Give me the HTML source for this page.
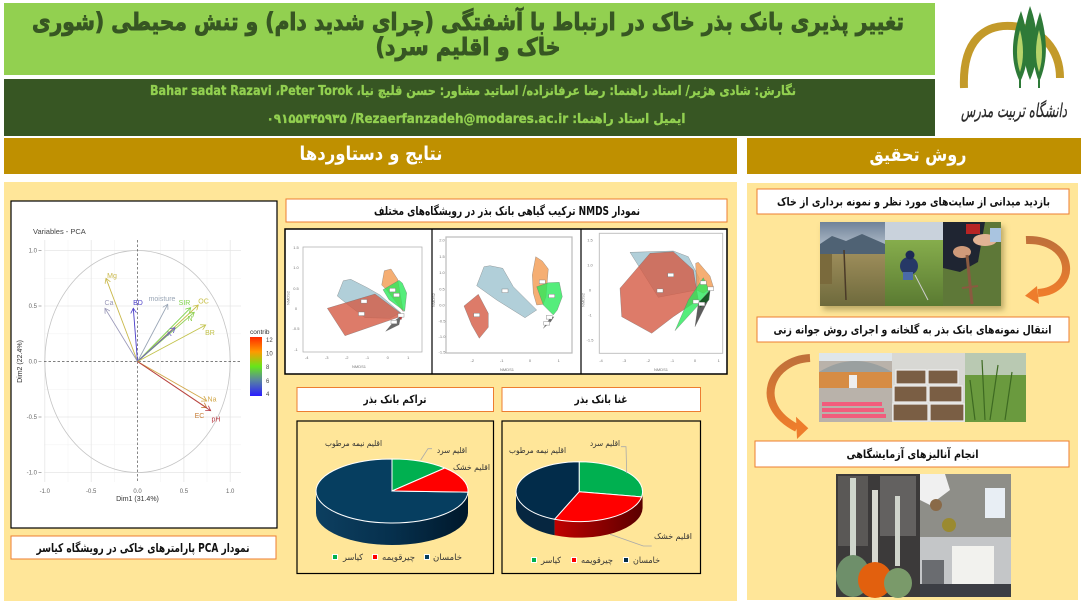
<!DOCTYPE html>
<html><head><meta charset="utf-8">
<style>
html,body{margin:0;padding:0;background:#fff;}
svg{display:block;}
.fa{font-family:"DejaVu Sans",sans-serif;}
.lat{font-family:"Liberation Sans",sans-serif;}
</style></head>
<body>
<svg width="1085" height="604" viewBox="0 0 1085 604" xmlns="http://www.w3.org/2000/svg">
<defs>
 <linearGradient id="cb" x1="0" y1="0" x2="0" y2="1">
  <stop offset="0" stop-color="#ff2a00"/><stop offset="0.25" stop-color="#ff9a00"/>
  <stop offset="0.5" stop-color="#66e61a"/><stop offset="0.72" stop-color="#5a8a9a"/>
  <stop offset="1" stop-color="#2a1cff"/>
 </linearGradient>
 <linearGradient id="navySideL" x1="0" y1="0" x2="1" y2="0">
  <stop offset="0" stop-color="#0d3f60"/><stop offset="0.5" stop-color="#06304d"/><stop offset="1" stop-color="#00182b"/>
 </linearGradient>
 <linearGradient id="redSide" x1="0" y1="0" x2="1" y2="0">
  <stop offset="0" stop-color="#c00000"/><stop offset="1" stop-color="#5a0000"/>
 </linearGradient>
 <linearGradient id="sky1" x1="0" y1="0" x2="0" y2="1"><stop offset="0" stop-color="#6f8299"/><stop offset="1" stop-color="#b9c4cf"/></linearGradient>
 <linearGradient id="gr1" x1="0" y1="0" x2="0" y2="1"><stop offset="0" stop-color="#9c8c5a"/><stop offset="1" stop-color="#6e6a3c"/></linearGradient>
 <linearGradient id="gr2" x1="0" y1="0" x2="0" y2="1"><stop offset="0" stop-color="#86ad4c"/><stop offset="1" stop-color="#5a7a32"/></linearGradient>
 <linearGradient id="arr1" x1="0" y1="0" x2="0" y2="1"><stop offset="0" stop-color="#c0703a"/><stop offset="1" stop-color="#ee7d2c"/></linearGradient>
 <filter id="sh" x="-10%" y="-10%" width="120%" height="130%"><feDropShadow dx="3" dy="4" stdDeviation="3" flood-color="#7a6a30" flood-opacity="0.5"/></filter>
 <marker id="m1" markerWidth="6" markerHeight="6" refX="5" refY="3" orient="auto" markerUnits="userSpaceOnUse"><path d="M0,0 L5,3 L0,6" fill="none" stroke="#c9b84a" stroke-width="0.8"/></marker>
 <marker id="m2" markerWidth="6" markerHeight="6" refX="5" refY="3" orient="auto" markerUnits="userSpaceOnUse"><path d="M0,0 L5,3 L0,6" fill="none" stroke="#9a98b8" stroke-width="0.8"/></marker>
 <marker id="m3" markerWidth="6" markerHeight="6" refX="5" refY="3" orient="auto" markerUnits="userSpaceOnUse"><path d="M0,0 L5,3 L0,6" fill="none" stroke="#4a3ec8" stroke-width="0.8"/></marker>
 <marker id="m4" markerWidth="6" markerHeight="6" refX="5" refY="3" orient="auto" markerUnits="userSpaceOnUse"><path d="M0,0 L5,3 L0,6" fill="none" stroke="#9aa6b6" stroke-width="0.8"/></marker>
 <marker id="m5" markerWidth="6" markerHeight="6" refX="5" refY="3" orient="auto" markerUnits="userSpaceOnUse"><path d="M0,0 L5,3 L0,6" fill="none" stroke="#7ed34a" stroke-width="0.8"/></marker>
 <marker id="m6" markerWidth="6" markerHeight="6" refX="5" refY="3" orient="auto" markerUnits="userSpaceOnUse"><path d="M0,0 L5,3 L0,6" fill="none" stroke="#c8c048" stroke-width="0.8"/></marker>
 <marker id="m7" markerWidth="6" markerHeight="6" refX="5" refY="3" orient="auto" markerUnits="userSpaceOnUse"><path d="M0,0 L5,3 L0,6" fill="none" stroke="#8ed050" stroke-width="0.8"/></marker>
 <marker id="m8" markerWidth="6" markerHeight="6" refX="5" refY="3" orient="auto" markerUnits="userSpaceOnUse"><path d="M0,0 L5,3 L0,6" fill="none" stroke="#6a5ac8" stroke-width="0.8"/></marker>
 <marker id="m9" markerWidth="6" markerHeight="6" refX="5" refY="3" orient="auto" markerUnits="userSpaceOnUse"><path d="M0,0 L5,3 L0,6" fill="none" stroke="#c2c24a" stroke-width="0.8"/></marker>
 <marker id="m10" markerWidth="6" markerHeight="6" refX="5" refY="3" orient="auto" markerUnits="userSpaceOnUse"><path d="M0,0 L5,3 L0,6" fill="none" stroke="#d2a84a" stroke-width="0.8"/></marker>
 <marker id="m11" markerWidth="6" markerHeight="6" refX="5" refY="3" orient="auto" markerUnits="userSpaceOnUse"><path d="M0,0 L5,3 L0,6" fill="none" stroke="#c8803a" stroke-width="0.8"/></marker>
 <marker id="m12" markerWidth="6" markerHeight="6" refX="5" refY="3" orient="auto" markerUnits="userSpaceOnUse"><path d="M0,0 L5,3 L0,6" fill="none" stroke="#b84048" stroke-width="0.8"/></marker>
</defs>

<!-- HEADER -->
<rect x="4" y="3" width="931" height="72" fill="#92d050"/>
<text class="fa" x="468" y="30" font-size="24" font-weight="bold" fill="#375623" stroke="#375623" stroke-width="0.9" text-anchor="middle" direction="rtl" textLength="872" lengthAdjust="spacingAndGlyphs">تغییر پذیری بانک بذر خاک در ارتباط با آشفتگی (چرای شدید دام) و تنش محیطی (شوری</text>
<text class="fa" x="468" y="55" font-size="24" font-weight="bold" fill="#375623" stroke="#375623" stroke-width="0.9" text-anchor="middle" direction="rtl" textLength="185" lengthAdjust="spacingAndGlyphs">خاک و اقلیم سرد)</text>

<rect x="4" y="79" width="931" height="57" fill="#375623"/>
<text class="fa" x="473" y="95" font-size="13" font-weight="bold" fill="#92d050" stroke="#92d050" stroke-width="0.3" text-anchor="middle" direction="rtl" textLength="646" lengthAdjust="spacingAndGlyphs">نگارش: شادی هژیر/ استاد راهنما: رضا عرفانزاده/ اساتید مشاور: حسن قلیچ نیا، Peter Torok،&#x200F; Bahar sadat Razavi</text>
<text class="fa" x="476" y="123" font-size="13" font-weight="bold" fill="#92d050" stroke="#92d050" stroke-width="0.3" text-anchor="middle" direction="rtl" textLength="419" lengthAdjust="spacingAndGlyphs">ایمیل استاد راهنما: Rezaerfanzadeh@modares.ac.ir&#x200F;/ &#x200F;۰۹۱۵۵۴۴۵۹۳۵</text>

<!-- LOGO -->
<path d="M964,88 C962,40 985,24 1012,26 C1042,28 1060,50 1060,78" fill="none" stroke="#c39a2a" stroke-width="8"/>
<g fill="#2e7a38">
 <path d="M1021,11 C1012,35 1009,60 1020,82 C1031,60 1029,35 1021,11Z"/>
 <path d="M1030,6 C1022,30 1021,58 1030,80 C1040,58 1039,30 1030,6Z"/>
 <path d="M1040,12 C1032,36 1030,60 1039,82 C1049,60 1047,36 1040,12Z"/>
</g>
<g fill="#b6d46a">
 <path d="M1020,30 C1016,45 1016,60 1020,72 C1024,60 1024,45 1020,30Z"/>
 <path d="M1039,30 C1035,45 1035,60 1039,72 C1043,60 1043,45 1039,30Z"/>
</g>
<g stroke="#2e7a38" stroke-width="2"><line x1="1020" y1="80" x2="1020" y2="88"/><line x1="1039" y1="80" x2="1039" y2="88"/></g>
<text class="fa" x="1014" y="117" font-size="19" font-style="italic" fill="#2a2a2a" stroke="#2a2a2a" stroke-width="0.3" text-anchor="middle" direction="rtl" textLength="106" lengthAdjust="spacingAndGlyphs">دانشگاه تربیت مدرس</text>

<!-- SECTION HEADERS -->
<rect x="4" y="138" width="733" height="36" fill="#bf9000"/>
<text class="fa" x="371" y="160" font-size="19" font-weight="bold" fill="#fff" text-anchor="middle" direction="rtl" textLength="143" lengthAdjust="spacingAndGlyphs">نتایج و دستاوردها</text>
<rect x="747" y="138" width="334" height="36" fill="#bf9000"/>
<text class="fa" x="918" y="161" font-size="19" font-weight="bold" fill="#fff" text-anchor="middle" direction="rtl" textLength="97" lengthAdjust="spacingAndGlyphs">روش تحقیق</text>

<!-- PANELS -->
<rect x="4" y="182" width="733" height="419" fill="#ffe699"/>
<rect x="747" y="183" width="331" height="417" fill="#ffe699"/>

<!-- PCA -->
<rect x="11" y="201" width="266" height="327" fill="#fff" stroke="#000" stroke-width="1.2"/>
<g stroke="#f3f3f3" stroke-width="0.6">
 <line x1="68" y1="240" x2="68" y2="482"/><line x1="114.3" y1="240" x2="114.3" y2="482"/>
 <line x1="160.7" y1="240" x2="160.7" y2="482"/><line x1="207" y1="240" x2="207" y2="482"/>
 <line x1="44" y1="278.3" x2="241" y2="278.3"/><line x1="44" y1="333.8" x2="241" y2="333.8"/>
 <line x1="44" y1="389.3" x2="241" y2="389.3"/><line x1="44" y1="444.8" x2="241" y2="444.8"/>
</g>
<g stroke="#e6e6e6" stroke-width="0.8">
 <line x1="44.8" y1="240" x2="44.8" y2="482"/><line x1="91.2" y1="240" x2="91.2" y2="482"/>
 <line x1="183.9" y1="240" x2="183.9" y2="482"/><line x1="230.2" y1="240" x2="230.2" y2="482"/>
 <line x1="44" y1="250.5" x2="241" y2="250.5"/><line x1="44" y1="306" x2="241" y2="306"/>
 <line x1="44" y1="417" x2="241" y2="417"/><line x1="44" y1="472.5" x2="241" y2="472.5"/>
</g>
<ellipse cx="137.5" cy="361.5" rx="92.7" ry="111" fill="none" stroke="#c4c4c4" stroke-width="0.8"/>
<g stroke="#555" stroke-width="0.7" stroke-dasharray="2.5,2">
 <line x1="137.5" y1="240" x2="137.5" y2="482"/><line x1="44" y1="361.5" x2="241" y2="361.5"/>
</g>
<g stroke-width="0.9" fill="none">
 <line x1="137.5" y1="361.5" x2="106" y2="278.3" stroke="#c9b84a" marker-end="url(#m1)"/>
 <line x1="137.5" y1="361.5" x2="105" y2="308.3" stroke="#9a98b8" marker-end="url(#m2)"/>
 <line x1="137.5" y1="361.5" x2="133.3" y2="308.3" stroke="#4a3ec8" marker-end="url(#m3)"/>
 <line x1="137.5" y1="361.5" x2="167.7" y2="304.3" stroke="#9aa6b6" marker-end="url(#m4)"/>
 <line x1="137.5" y1="361.5" x2="190.7" y2="307.7" stroke="#7ed34a" marker-end="url(#m5)"/>
 <line x1="137.5" y1="361.5" x2="198.3" y2="305" stroke="#c8c048" marker-end="url(#m6)"/>
 <line x1="137.5" y1="361.5" x2="194.3" y2="312.3" stroke="#8ed050" marker-end="url(#m7)"/>
 <line x1="137.5" y1="361.5" x2="175" y2="327.7" stroke="#6a5ac8" marker-end="url(#m8)"/>
 <line x1="137.5" y1="361.5" x2="205.7" y2="325" stroke="#c2c24a" marker-end="url(#m9)"/>
 <line x1="137.5" y1="361.5" x2="206.7" y2="401" stroke="#d2a84a" marker-end="url(#m10)"/>
 <line x1="137.5" y1="361.5" x2="206.7" y2="407.7" stroke="#c8803a" marker-end="url(#m11)"/>
 <line x1="137.5" y1="361.5" x2="210.7" y2="410.7" stroke="#b84048" marker-end="url(#m12)"/>
</g>
<g class="lat" font-size="7" text-anchor="middle">
 <text x="112" y="278" fill="#c9b84a">Mg</text>
 <text x="109" y="305" fill="#9a98b8">Ca</text>
 <text x="138" y="305" fill="#4a3ec8">BD</text>
 <text x="162" y="301" fill="#9aa6b6">moisture</text>
 <text x="184.5" y="305" fill="#7ed34a">SIR</text>
 <text x="203.5" y="303.5" fill="#c8c048">OC</text>
 <text x="190" y="321" fill="#8ed050">N</text>
 <text x="169.5" y="336" fill="#6a5ac8">K</text>
 <text x="210" y="335" fill="#c2c24a">BR</text>
 <text x="212" y="401.5" fill="#d2a84a">Na</text>
 <text x="199.5" y="418" fill="#c8803a">EC</text>
 <text x="216" y="421.5" fill="#b84048">pH</text>
</g>
<text class="lat" x="33" y="234" font-size="7.5" fill="#444">Variables - PCA</text>
<g class="lat" font-size="6" fill="#666" text-anchor="middle">
 <text x="44.8" y="493">-1.0</text><text x="91.2" y="493">-0.5</text><text x="137.5" y="493">0.0</text>
 <text x="183.9" y="493">0.5</text><text x="230.2" y="493">1.0</text>
</g>
<g class="lat" font-size="6" fill="#666" text-anchor="end">
 <text x="37" y="252.5">1.0</text><text x="37" y="308">0.5</text><text x="37" y="363.5">0.0</text>
 <text x="37" y="419">-0.5</text><text x="37" y="474.5">-1.0</text>
</g>
<g stroke="#777" stroke-width="0.6">
 <line x1="38.5" y1="250.5" x2="41.5" y2="250.5"/><line x1="38.5" y1="306" x2="41.5" y2="306"/><line x1="38.5" y1="361.5" x2="41.5" y2="361.5"/><line x1="38.5" y1="417" x2="41.5" y2="417"/><line x1="38.5" y1="472.5" x2="41.5" y2="472.5"/>
</g>
<text class="lat" x="137.5" y="501" font-size="7" fill="#333" text-anchor="middle">Dim1 (31.4%)</text>
<text class="lat" x="0" y="0" font-size="7" fill="#333" text-anchor="middle" transform="translate(22,361.5) rotate(-90)">Dim2 (22.4%)</text>
<text class="lat" x="250" y="334" font-size="6.5" fill="#333">contrib</text>
<rect x="250" y="337" width="12" height="59" fill="url(#cb)"/>
<g class="lat" font-size="6" fill="#444">
 <text x="266" y="342">12</text><text x="266" y="355.5">10</text><text x="266" y="369">8</text><text x="266" y="383">6</text><text x="266" y="396">4</text>
</g>

<rect x="11" y="536" width="265" height="23" fill="#fff" stroke="#ed7d31" stroke-width="1"/>
<text class="fa" x="143" y="552" font-size="12" font-weight="bold" fill="#111" text-anchor="middle" direction="rtl" textLength="213" lengthAdjust="spacingAndGlyphs">نمودار PCA پارامترهای خاکی در رویشگاه کیاسر</text>

<!-- NMDS -->
<rect x="286" y="199" width="441" height="23" fill="#fff" stroke="#ed7d31" stroke-width="1"/>
<text class="fa" x="507" y="215" font-size="12" font-weight="bold" fill="#111" text-anchor="middle" direction="rtl" textLength="266" lengthAdjust="spacingAndGlyphs">نمودار NMDS ترکیب گیاهی بانک بذر در رویشگاه‌های مختلف</text>

<rect x="285" y="229" width="442" height="145" fill="#fff" stroke="#000" stroke-width="1.5"/>
<line x1="432" y1="229" x2="432" y2="374" stroke="#000" stroke-width="1.2"/>
<line x1="581" y1="229" x2="581" y2="374" stroke="#000" stroke-width="1.2"/>

<!-- panel 1 -->
<rect x="303" y="247" width="119" height="105" fill="none" stroke="#aaa" stroke-width="0.7"/>
<g fill-opacity="0.8" stroke="#666" stroke-width="0.3">
 <polygon points="337.3,296 343.3,280.7 350.7,279.3 367.3,287.7 380,295 400.7,312.7 390,318.3 365,317.7 348.3,305" fill="#9ec3cf"/>
 <polygon points="327.3,308.3 375,294 400.7,313.3 398.3,317.3 345,335.7" fill="#d45a44"/>
 <polygon points="381.7,285 384.3,270.7 391,269 397.7,279.3 403.3,311.7 386.7,290" fill="#f39a50"/>
 <polygon points="383,289.7 399,280.3 402.3,283 406.7,293 404.7,311.3 389,299.7" fill="#2ae85a"/>
 <polygon points="385.7,331.3 394,321.3 400.7,316.3 399,324.7" fill="#444"/>
 <polygon points="398,316 403,315 401,320" fill="#c00"/>
</g>
<g fill="#fff" stroke="#777" stroke-width="0.4">
 <rect x="361" y="299.5" width="6" height="3.6"/><rect x="358.5" y="312" width="6" height="3.6"/>
 <rect x="389.5" y="288.3" width="6" height="3.6"/><rect x="393.5" y="293.3" width="6" height="3.6"/>
 <rect x="398" y="313.5" width="6" height="3.6"/><rect x="391" y="320.2" width="6" height="3.6"/>
</g>
<g class="lat" font-size="4" fill="#777" text-anchor="middle">
 <text x="306.7" y="359">-4</text><text x="326.7" y="359">-3</text><text x="346.7" y="359">-2</text><text x="367.3" y="359">-1</text><text x="387.7" y="359">0</text><text x="408.3" y="359">1</text>
 <text x="359" y="368">NMDS1</text>
 <text x="296" y="249">1.5</text><text x="296" y="269">1.0</text><text x="296" y="290">0.5</text><text x="296" y="310">0</text><text x="296" y="330">-0.5</text><text x="296" y="351">-1</text>
</g>
<text class="lat" font-size="4" fill="#777" text-anchor="middle" transform="translate(289.5,298) rotate(-90)">NMDS2</text>

<!-- panel 2 -->
<rect x="446" y="237" width="126" height="116" fill="none" stroke="#bbb" stroke-width="1.2"/>
<g fill-opacity="0.8" stroke="#666" stroke-width="0.3">
 <polygon points="476.7,285.7 484,266.7 490,265.7 502.7,268.3 513.3,286.7 536.7,310 525,317.7 496.7,300" fill="#9ec3cf"/>
 <polygon points="464,306 478.3,294.3 488.3,313.3 488.3,327.3 479.3,338.3 471.7,325" fill="#d45a44"/>
 <polygon points="532.3,275 535.7,256.7 542.3,261 548.3,269 546,296.7 543.3,304.3 536.7,305 533.3,293.3" fill="#f39a50"/>
 <polygon points="536.7,286.7 548.3,282.7 559.3,282.3 562.3,296.7 557.3,310 553.3,315 543.3,305" fill="#2ae85a"/>
 <polygon points="543.3,328.3 550,318.3 554,316.7 550.7,321.7" fill="#444"/>
</g>
<g fill="#fff" stroke="#777" stroke-width="0.4">
 <rect x="502" y="289" width="6" height="3.6"/><rect x="473.7" y="313.2" width="6" height="3.6"/>
 <rect x="539.3" y="280" width="6" height="3.6"/><rect x="548.7" y="294.2" width="6" height="3.6"/>
 <rect x="546.3" y="315.5" width="6" height="3.6"/><rect x="543.7" y="321.5" width="6" height="3.6"/>
</g>
<g class="lat" font-size="4" fill="#777" text-anchor="middle">
 <text x="472.3" y="362">-2</text><text x="501.7" y="362">-1</text><text x="530" y="362">0</text><text x="558.7" y="362">1</text>
 <text x="507" y="371">NMDS1</text>
 <text x="442" y="241.5">2.0</text><text x="442" y="258">1.5</text><text x="442" y="274">1.0</text><text x="442" y="290.5">0.5</text><text x="442" y="306.5">0.0</text><text x="442" y="322.5">-0.5</text><text x="442" y="338">-1.0</text><text x="442" y="353.5">-1.5</text>
</g>
<text class="lat" font-size="4" fill="#777" text-anchor="middle" transform="translate(435,300) rotate(-90)">NMDS2</text>

<!-- panel 3 -->
<rect x="599.3" y="233.3" width="123.4" height="120" fill="none" stroke="#bbb" stroke-width="0.9"/>
<g fill-opacity="0.8" stroke="#666" stroke-width="0.3">
 <polygon points="630,252.3 673.3,251 688.3,256.7 699.3,278.3 696.7,290 658.3,297.3" fill="#9ec3cf"/>
 <polygon points="620,288.3 650,253.3 673.3,251.7 693.3,270 698.3,300 673.3,316.7 651.7,333.3 621.7,316.7" fill="#d45a44"/>
 <polygon points="695.7,263.3 698.3,262.3 710,276 713.3,286.7 703.3,293.3 696.7,290" fill="#f39a50"/>
 <polygon points="675,330.7 688.3,300 703.3,277.7 710,291.7 700,303.3" fill="#2ae85a"/>
 <polygon points="695,326.7 698.3,303.3 710,290 708.3,300" fill="#333"/>
 <polygon points="699,302 710,291 709,300 700,308" fill="#0a5a1a"/>
</g>
<g fill="#fff" stroke="#777" stroke-width="0.4">
 <rect x="667.7" y="273.2" width="6" height="3.6"/><rect x="657" y="288.9" width="6" height="3.6"/>
 <rect x="700.3" y="280.9" width="6" height="3.6"/><rect x="707.7" y="286.9" width="6" height="3.6"/>
 <rect x="693" y="299.9" width="6" height="3.6"/><rect x="698.7" y="302.2" width="6" height="3.6"/>
</g>
<g class="lat" font-size="4" fill="#777" text-anchor="middle">
 <text x="601" y="362">-4</text><text x="624.3" y="362">-3</text><text x="648.3" y="362">-2</text><text x="672.3" y="362">-1</text><text x="695" y="362">0</text><text x="718.7" y="362">1</text>
 <text x="661" y="371">NMDS1</text>
 <text x="590" y="241.5">1.5</text><text x="590" y="266.5">1.0</text><text x="590" y="291.5">0</text><text x="590" y="316.5">-1</text><text x="590" y="341.5">-1.5</text>
</g>
<text class="lat" font-size="4" fill="#777" text-anchor="middle" transform="translate(584.5,300) rotate(-90)">NMDS2</text>

<!-- PIE CAPTIONS -->
<rect x="297" y="387.5" width="196.5" height="24" fill="#fff" stroke="#ed7d31" stroke-width="1"/>
<text class="fa" x="395" y="403" font-size="11" font-weight="bold" fill="#111" text-anchor="middle" direction="rtl" textLength="63" lengthAdjust="spacingAndGlyphs">تراکم بانک بذر</text>
<rect x="502" y="387.5" width="198.5" height="24" fill="#fff" stroke="#ed7d31" stroke-width="1"/>
<text class="fa" x="601" y="403" font-size="11" font-weight="bold" fill="#111" text-anchor="middle" direction="rtl" textLength="53" lengthAdjust="spacingAndGlyphs">غنا بانک بذر</text>

<!-- PIE LEFT -->
<rect x="297" y="421" width="196.5" height="152.5" fill="#ffe699" stroke="#000" stroke-width="1.2"/>
<path d="M316,491 L316,513 A76,32 0 0 0 468,513 L468,491 Z" fill="url(#navySideL)"/>
<path d="M392,491 L468,492.1 A76,32 0 1 1 392,459 Z" fill="#063e60" stroke="#fff" stroke-width="1"/>
<path d="M392,491 L392,459 A76,32 0 0 1 444.8,468 Z" fill="#00b050" stroke="#fff" stroke-width="1"/>
<path d="M392,491 L444.8,468 A76,32 0 0 1 468,492.1 Z" fill="#ff0000" stroke="#fff" stroke-width="1"/>
<polyline points="420.7,460 428,448.7 432,448.7" fill="none" stroke="#aaa" stroke-width="0.8"/>
<g class="fa" font-size="8" fill="#333" text-anchor="middle" direction="rtl">
 <text x="353.5" y="446" textLength="57" lengthAdjust="spacingAndGlyphs">اقلیم نیمه مرطوب</text>
 <text x="452" y="453" textLength="30" lengthAdjust="spacingAndGlyphs">اقلیم سرد</text>
 <text x="471.5" y="470" textLength="37" lengthAdjust="spacingAndGlyphs">اقلیم خشک</text>
</g>
<rect x="332.5" y="554.5" width="5" height="5" fill="#00b050" stroke="#fff" stroke-width="1"/>
<rect x="372.5" y="554.5" width="5" height="5" fill="#ff0000" stroke="#fff" stroke-width="1"/>
<rect x="424.5" y="554.5" width="5" height="5" fill="#063e60" stroke="#fff" stroke-width="1"/>
<g class="fa" font-size="8.5" fill="#333" text-anchor="middle" direction="rtl">
 <text x="353" y="560" textLength="20" lengthAdjust="spacingAndGlyphs">کیاسر</text>
 <text x="398.5" y="560" textLength="33" lengthAdjust="spacingAndGlyphs">چیرقویمه</text>
 <text x="447.5" y="560" textLength="29" lengthAdjust="spacingAndGlyphs">خامسان</text>
</g>

<!-- PIE RIGHT -->
<rect x="502" y="421" width="198.5" height="152.5" fill="#ffe699" stroke="#000" stroke-width="1.2"/>
<path d="M642.6,491.7 L642.6,507.7 A63.3,30 0 0 1 554.6,535.3 L554.6,519.3 Z" fill="url(#redSide)"/>
<path d="M554.6,519.3 L554.6,535.3 A63.3,30 0 0 1 516,507.7 L516,491.7 Z" fill="#062640"/>
<path d="M579.3,491.7 L554.6,519.3 A63.3,30 0 0 1 579.3,461.7 Z" fill="#022c4a" stroke="#fff" stroke-width="1"/>
<path d="M579.3,491.7 L579.3,461.7 A63.3,30 0 0 1 641.6,496.9 Z" fill="#00b050" stroke="#fff" stroke-width="1"/>
<path d="M579.3,491.7 L641.6,496.9 A63.3,30 0 0 1 554.6,519.3 Z" fill="#ff0000" stroke="#fff" stroke-width="1"/>
<polyline points="626.7,473.3 626,446.7 621,446.7" fill="none" stroke="#aaa" stroke-width="0.8"/>
<polyline points="610,534.3 643.3,546 651.7,546" fill="none" stroke="#aaa" stroke-width="0.8"/>
<g class="fa" font-size="8" fill="#333" text-anchor="middle" direction="rtl">
 <text x="605" y="446" textLength="30" lengthAdjust="spacingAndGlyphs">اقلیم سرد</text>
 <text x="537.5" y="453" textLength="57" lengthAdjust="spacingAndGlyphs">اقلیم نیمه مرطوب</text>
 <text x="673" y="539" textLength="38" lengthAdjust="spacingAndGlyphs">اقلیم خشک</text>
</g>
<rect x="531.5" y="557.5" width="5" height="5" fill="#00b050" stroke="#fff" stroke-width="1"/>
<rect x="571.5" y="557.5" width="5" height="5" fill="#ff0000" stroke="#fff" stroke-width="1"/>
<rect x="623.5" y="557.5" width="5" height="5" fill="#022c4a" stroke="#fff" stroke-width="1"/>
<g class="fa" font-size="8.5" fill="#333" text-anchor="middle" direction="rtl">
 <text x="551" y="563" textLength="20" lengthAdjust="spacingAndGlyphs">کیاسر</text>
 <text x="597" y="563" textLength="32" lengthAdjust="spacingAndGlyphs">چیرقویمه</text>
 <text x="646.5" y="563" textLength="27" lengthAdjust="spacingAndGlyphs">خامسان</text>
</g>

<!-- RIGHT COLUMN -->
<rect x="757" y="189" width="312" height="25" fill="#fff" stroke="#ed7d31" stroke-width="1"/>
<text class="fa" x="913.5" y="205.5" font-size="11.5" font-weight="bold" fill="#111" text-anchor="middle" direction="rtl" textLength="273" lengthAdjust="spacingAndGlyphs">بازدید میدانی از سایت‌های مورد نظر و نمونه برداری از خاک</text>

<g filter="url(#sh)">
 <rect x="820" y="222" width="181" height="84" fill="#777"/>
</g>
<!-- photo 1a -->
<rect x="820" y="222" width="65" height="84" fill="url(#gr1)"/>
<rect x="820" y="222" width="65" height="28" fill="url(#sky1)"/>
<polygon points="820,244 832,236 846,241 862,234 885,244 885,256 820,256" fill="#4f6274"/>
<rect x="820" y="254" width="65" height="52" fill="url(#gr1)"/>
<rect x="820" y="254" width="12" height="30" fill="#7a6a3c"/>
<line x1="844" y1="250" x2="846" y2="300" stroke="#4a3a28" stroke-width="1.5"/>
<!-- photo 1b -->
<rect x="885" y="222" width="58" height="18" fill="#c9d2dc"/>
<rect x="885" y="240" width="58" height="66" fill="url(#gr2)"/>
<ellipse cx="909" cy="266" rx="9" ry="9" fill="#263866"/>
<circle cx="910" cy="255" r="4.5" fill="#1d2a55"/>
<rect x="903" y="272" width="10" height="8" fill="#4a6aa8"/>
<line x1="915" y1="275" x2="928" y2="300" stroke="#ccc" stroke-width="1"/>
<!-- photo 1c -->
<rect x="943" y="222" width="58" height="84" fill="#5e7838"/>
<polygon points="943,222 985,222 978,262 960,272 943,268" fill="#1f2532"/>
<rect x="966" y="224" width="14" height="10" fill="#b82424"/>
<ellipse cx="962" cy="252" rx="9" ry="6" fill="#cf9a7a"/>
<ellipse cx="985" cy="240" rx="12" ry="6" fill="#e2b394"/>
<rect x="990" y="228" width="11" height="14" fill="#a9c4e0"/>
<line x1="967" y1="255" x2="972" y2="304" stroke="#8a5a40" stroke-width="3"/>
<line x1="962" y1="288" x2="978" y2="286" stroke="#8a5a40" stroke-width="2"/>

<!-- arrow 1 -->
<path d="M1026,240 C1074,238 1080,290 1038,293" fill="none" stroke="url(#arr1)" stroke-width="8"/>
<polygon points="1025,295.7 1037,286 1039,304" fill="#ee7d2c"/>

<rect x="757" y="317" width="312" height="25" fill="#fff" stroke="#ed7d31" stroke-width="1"/>
<text class="fa" x="912.5" y="333.5" font-size="11.5" font-weight="bold" fill="#111" text-anchor="middle" direction="rtl" textLength="278" lengthAdjust="spacingAndGlyphs">انتقال نمونه‌های بانک بذر به گلخانه و اجرای روش جوانه زنی</text>

<!-- photos 2 -->
<rect x="819" y="353" width="73" height="69" fill="#b9b2aa"/>
<rect x="819" y="353" width="73" height="8" fill="#dfe6ea"/>
<path d="M819,372 Q855,350 892,372 Z" fill="#9aa0a0"/>
<rect x="819" y="372" width="73" height="16" fill="#d68c44"/>
<rect x="849" y="375" width="8" height="13" fill="#eee"/>
<g fill="#f25c7c"><rect x="822" y="402" width="60" height="4"/><rect x="822" y="408" width="62" height="4"/><rect x="822" y="414" width="64" height="4"/></g>
<rect x="892" y="353" width="73" height="69" fill="#d8d8d4"/>
<g fill="#7a5e44" stroke="#eee" stroke-width="1.2">
 <rect x="896" y="370" width="30" height="14"/><rect x="928" y="370" width="30" height="14"/>
 <rect x="894" y="386" width="33" height="16"/><rect x="929" y="386" width="33" height="16"/>
 <rect x="893" y="404" width="35" height="17"/><rect x="930" y="404" width="34" height="17"/>
</g>
<rect x="965" y="353" width="61" height="69" fill="#6a9a3e"/>
<rect x="965" y="353" width="61" height="22" fill="#b9c9b2"/>
<g stroke="#3e6a22" stroke-width="1.2"><line x1="985" y1="420" x2="982" y2="360"/><line x1="990" y1="420" x2="998" y2="365"/><line x1="975" y1="420" x2="970" y2="380"/><line x1="1005" y1="420" x2="1012" y2="372"/></g>

<!-- arrow 2 -->
<path d="M810,358 C770,360 752,405 797,428" fill="none" stroke="url(#arr1)" stroke-width="8"/>
<polygon points="808.3,428.3 796,416.7 797,439" fill="#ee7d2c"/>

<rect x="755" y="441" width="314" height="26" fill="#fff" stroke="#ed7d31" stroke-width="1"/>
<text class="fa" x="912.5" y="458" font-size="11.5" font-weight="bold" fill="#111" text-anchor="middle" direction="rtl" textLength="132" lengthAdjust="spacingAndGlyphs">انجام آنالیزهای آزمایشگاهی</text>

<!-- photos 3 -->
<rect x="836" y="474" width="84" height="123" fill="#3c3a3a"/>
<rect x="838" y="476" width="30" height="70" fill="#5a5856"/>
<rect x="880" y="476" width="36" height="60" fill="#636160"/>
<rect x="850" y="478" width="6" height="85" fill="#cfd6cc"/>
<ellipse cx="853" cy="576" rx="17" ry="21" fill="#6e8f6a"/>
<rect x="872" y="490" width="6" height="75" fill="#d8d8d0"/>
<ellipse cx="875" cy="580" rx="17" ry="18" fill="#e2600e"/>
<rect x="895" y="496" width="5" height="70" fill="#d0d4cc"/>
<ellipse cx="898" cy="583" rx="14" ry="15" fill="#7a9a6a"/>
<rect x="920" y="474" width="91" height="63" fill="#8e8e88"/>
<path d="M920,474 L945,474 L950,490 L930,505 L920,500 Z" fill="#f0f0f0"/>
<circle cx="936" cy="505" r="6" fill="#8a6a48"/>
<circle cx="949" cy="525" r="7" fill="#9a8a30"/>
<rect x="985" y="488" width="20" height="30" fill="#e8eef4"/>
<rect x="920" y="537" width="91" height="60" fill="#c4c6c8"/>
<rect x="952" y="546" width="42" height="38" fill="#f2f2ee"/>
<rect x="920" y="584" width="91" height="13" fill="#3c3e44"/>
<rect x="922" y="560" width="22" height="24" fill="#6a6c70"/>
</svg>
</body></html>
